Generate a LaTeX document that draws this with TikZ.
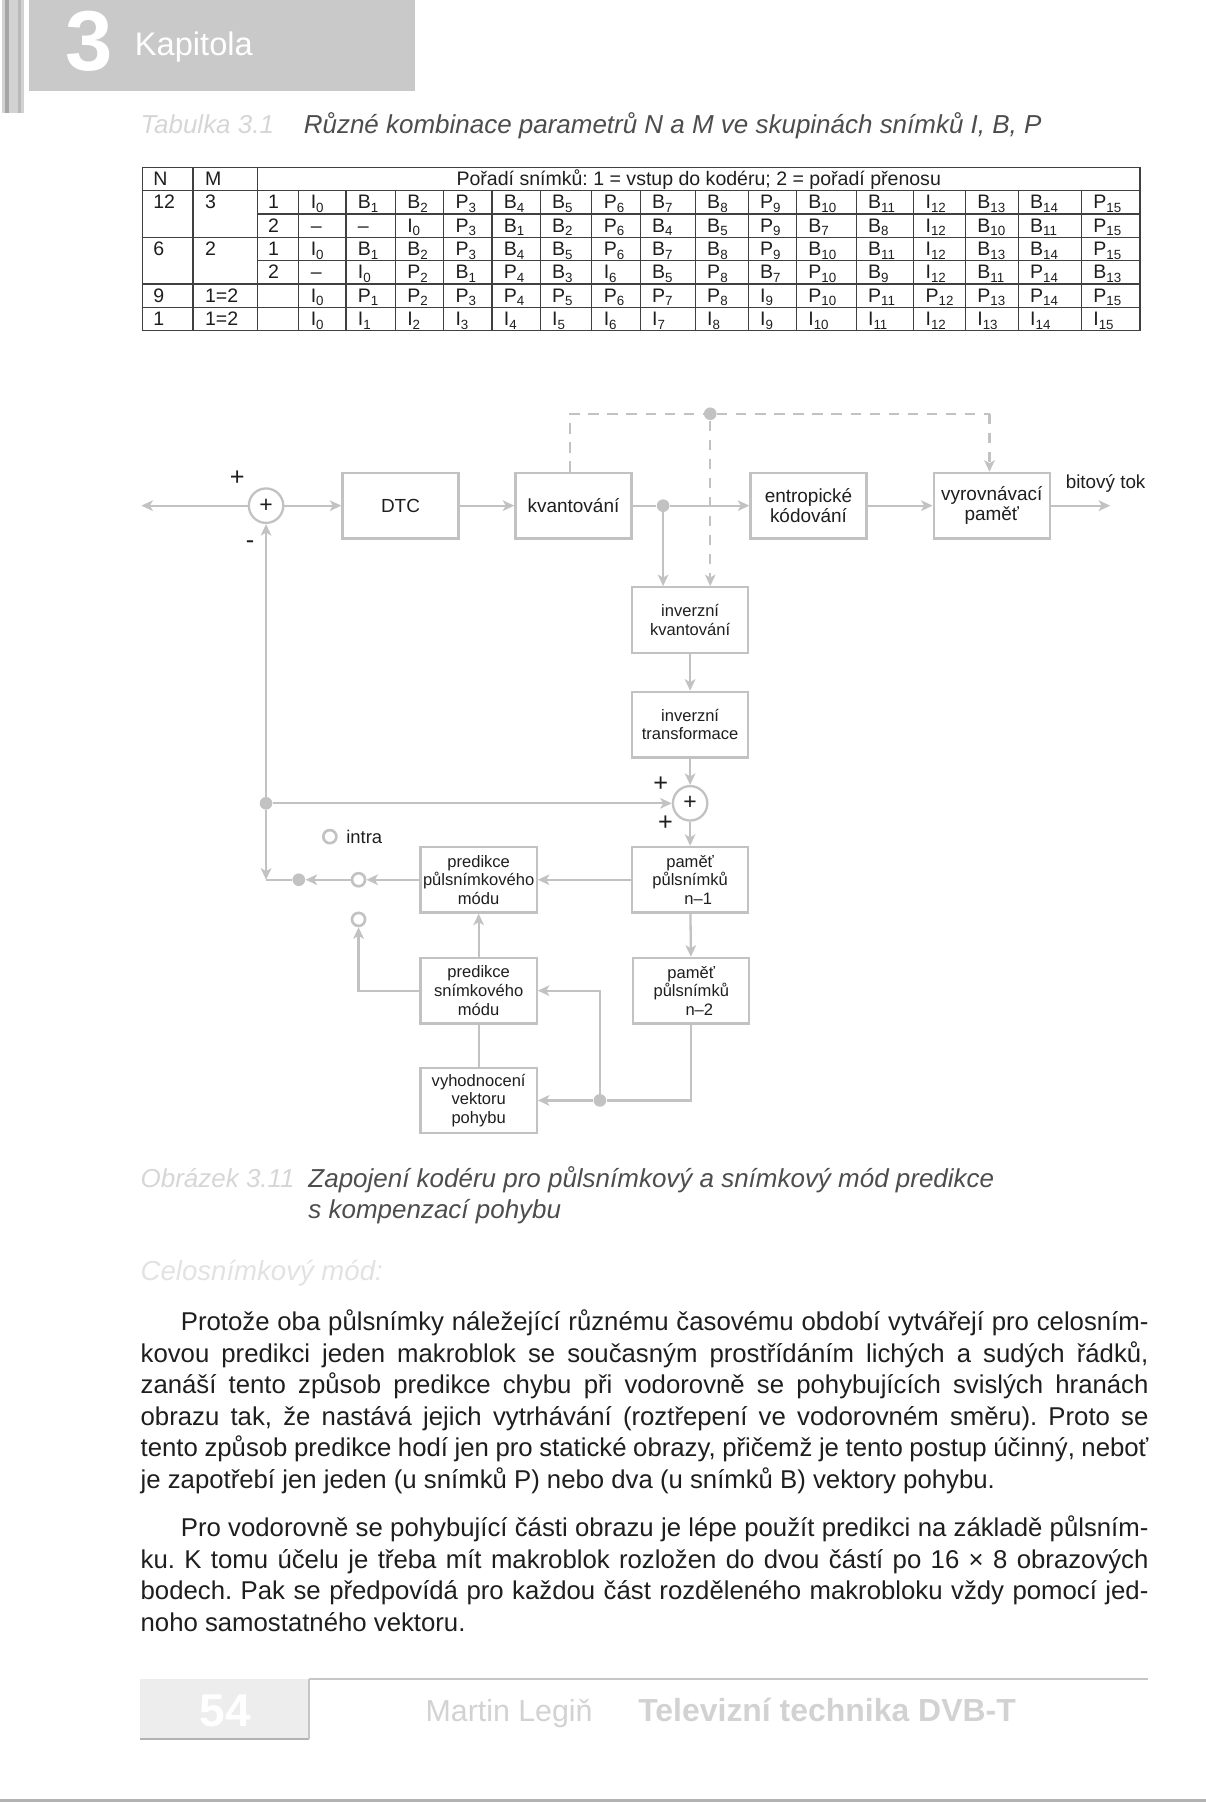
\documentclass[tikz,border=0pt]{standalone}
\usepackage{fontspec}
\setmainfont{Liberation Sans}
\usetikzlibrary{arrows.meta,calc}
\frenchspacing
\definecolor{lg}{HTML}{C2C2C2}
\definecolor{hdr}{HTML}{C9C9C9}
\definecolor{capgray}{HTML}{D6D6D6}
\definecolor{palegray}{HTML}{E2E2E2}
\definecolor{txtgray}{HTML}{4D4D4D}
\definecolor{ink}{HTML}{1E1E1E}
\definecolor{foot}{HTML}{D2D2D2}
\newcommand\fsz[2]{\fontsize{#1}{#2}\selectfont}
\newcommand\fr[2]{#1\raisebox{-0.35ex}{\fsz{5.8}{6}#2}}
\newcommand\bodyf{\fsz{11.2}{13.7}\frenchspacing}
\tikzset{
  cline/.style={draw=lg, line width=1pt},
  arr/.style={cline, -{Stealth[length=5pt,width=4.6pt,inset=1.3pt]}},
  tipd/.style={-{Stealth[length=5pt,width=4.6pt,inset=1.3pt]}},
  dsh/.style={draw=lg, line width=0.9pt, dash pattern=on 4.5pt off 3.8pt},
  blk/.style={draw=lg, line width=1pt, minimum width=50.5pt, minimum height=28.5pt, inner sep=0pt, align=center, text=ink},
  big/.style={blk, font=\fsz{8.25}{8.7}},
  small/.style={blk, font=\fsz{7.2}{8.1}},
  sumc/.style={circle, draw=lg, line width=1pt, minimum size=15pt, inner sep=0pt, font=\fsz{10}{10}, text=ink},
  fdot/.style={circle, fill=lg, minimum size=5.5pt, inner sep=0pt},
  odot/.style={circle, draw=lg, line width=1.15pt, minimum size=5.7pt, inner sep=0pt},
  sgn/.style={font=\fsz{11}{11}, text=ink, inner sep=0pt},
  cell/.style={anchor=base west, inner sep=0pt, font=\fsz{8.5}{10}, text=ink},
  tline/.style={draw=ink!85, line width=0.55pt},
  bline/.style={anchor=base west, inner sep=0pt, font=\bodyf, text=ink}
}
\begin{document}
\begin{tikzpicture}[x=0.5pt,y=-0.5pt]
\useasboundingbox (0,0) rectangle (1049,1568);
% ---------- page header ----------
\fill[hdr] (25,0) rectangle (361,79);
\fill[gray!35] (2,0) rectangle (21,98);
\draw[gray!70, line width=1.5pt] (6,0) -- (6,98);
\draw[gray!55, line width=1pt] (17,0) -- (17,98);
\node[anchor=base west, inner sep=0pt, font=\bfseries\fsz{37}{37}, text=white] (chnum) at (57,61) {3};
\node[anchor=base west, inner sep=0pt, font=\fsz{14.2}{15}, text=white] (chname) at (117,48) {Kapitola};
% ---------- table title ----------
\node[anchor=base west, inner sep=0pt, font=\itshape\fsz{11.3}{13}, text=capgray] (tabno) at (122,116) {Tabulka 3.1};
\node[anchor=base west, inner sep=0pt, font=\itshape\fsz{11.3}{13}, text=txtgray] (tabtitle) at (264,116) {Různé kombinace parametrů N a M ve skupinách snímků I, B, P};
% ---------- table ----------
\draw[tline] (124,145.7) rectangle (992,287.8);
\draw[tline] (124,166) -- (992,166);
\draw[tline] (224,186.3) -- (992,186.3);
\draw[tline] (124,206.6) -- (992,206.6);
\draw[tline] (224,226.9) -- (992,226.9);
\draw[tline] (124,247.2) -- (992,247.2);
\draw[tline] (124,267.5) -- (992,267.5);
\draw[tline] (168,145.7) -- (168,287.8);
\draw[tline] (224,145.7) -- (224,287.8);
\foreach \xv in {260,301,344,386,428,470,515,557,605,651,693,745,795,840,886,941}
  \draw[tline] (\xv,166) -- (\xv,287.8);
\def\colarr{{260,301,344,386,428,470,515,557,605,651,693,745,795,840,886,941}}
\node[cell] (hN) at (133,161.5) {N};
\node[cell] (hM) at (178,161.5) {M};
\node[cell, anchor=base] (hP) at (608,161.5) {Pořadí snímků: 1 = vstup do kodéru; 2 = pořadí přenosu};
% row labels
\node[cell] at (133,181.8) {12};
\node[cell] at (178,181.8) {3};
\node[cell] at (233,181.8) {1};
\node[cell] at (233,202.1) {2};
\node[cell] at (133,222.4) {6};
\node[cell] at (178,222.4) {2};
\node[cell] at (233,222.4) {1};
\node[cell] at (233,242.7) {2};
\node[cell] at (133,263.0) {9};
\node[cell] at (178,263.0) {1=2};
\node[cell] at (133,283.3) {1};
\node[cell] at (178,283.3) {1=2};
% row contents
\foreach \a/\b [count=\i from 0] in {I/0,B/1,B/2,P/3,B/4,B/5,P/6,B/7,B/8,P/9,B/10,B/11,I/12,B/13,B/14,P/15}{
  \pgfmathsetmacro\xc{\colarr[\i]}
  \node[cell] at (\xc+10,181.8) {\fr{\a}{\b}};}
\foreach \a/\b [count=\i from 0] in {–/{},–/{},I/0,P/3,B/1,B/2,P/6,B/4,B/5,P/9,B/7,B/8,I/12,B/10,B/11,P/15}{
  \pgfmathsetmacro\xc{\colarr[\i]}
  \node[cell] at (\xc+10,202.1) {\fr{\a}{\b}};}
\foreach \a/\b [count=\i from 0] in {I/0,B/1,B/2,P/3,B/4,B/5,P/6,B/7,B/8,P/9,B/10,B/11,I/12,B/13,B/14,P/15}{
  \pgfmathsetmacro\xc{\colarr[\i]}
  \node[cell] at (\xc+10,222.4) {\fr{\a}{\b}};}
\foreach \a/\b [count=\i from 0] in {–/{},I/0,P/2,B/1,P/4,B/3,I/6,B/5,P/8,B/7,P/10,B/9,I/12,B/11,P/14,B/13}{
  \pgfmathsetmacro\xc{\colarr[\i]}
  \node[cell] at (\xc+10,242.7) {\fr{\a}{\b}};}
\foreach \a/\b [count=\i from 0] in {I/0,P/1,P/2,P/3,P/4,P/5,P/6,P/7,P/8,I/9,P/10,P/11,P/12,P/13,P/14,P/15}{
  \pgfmathsetmacro\xc{\colarr[\i]}
  \node[cell] at (\xc+10,263.0) {\fr{\a}{\b}};}
\foreach \b [count=\i from 0] in {0,1,2,3,4,5,6,7,8,9,10,11,12,13,14,15}{
  \pgfmathsetmacro\xc{\colarr[\i]}
  \node[cell] at (\xc+10,283.3) {\fr{I}{\b}};}
% ---------- block diagram ----------
\node[sumc] (sum1) at (231.5,440) {+};
\node[big] (dtc) at (348.5,440) {DTC};
\node[big] (kv) at (499,440) {kvantování};
\node[big] (ent) at (703.5,440) {entropické\\kódování};
\node[big] (vyr) at (863,440) {vyrovnávací\\paměť};
\node[small] (ikv) at (600.5,539.5) {inverzní\\kvantování};
\node[small] (itr) at (600.5,630.5) {inverzní\\transformace};
\node[sumc] (sum2) at (600.5,699) {+};
\node[small] (pp) at (416.5,765.5) {predikce\\půlsnímkového\\módu};
\node[small] (m1) at (600.5,765.5) {paměť\\půlsnímků\\\hspace*{7pt}n–1};
\node[small] (ps) at (416.5,862) {predikce\\snímkového\\módu};
\node[small] (m2) at (601.5,862) {paměť\\půlsnímků\\\hspace*{7pt}n–2};
\node[small] (vv) at (416.5,957.5) {vyhodnocení\\vektoru\\pohybu};
\node[fdot] (dot1) at (577,440) {};
\node[fdot] (ddot) at (618,360) {};
\node[fdot] (fbdot) at (231.5,699) {};
\node[fdot] (swa) at (260,765.5) {};
\node[odot] (swb) at (312,765.5) {};
\node[odot] (swc) at (312,800) {};
\node[odot] (intra) at (287,728) {};
\node[fdot] (dot2) at (522,957.5) {};
\coordinate (inp) at (123,440);
\coordinate (outp) at (966,440);
\coordinate (corner) at (231.5,765.5);
\coordinate (dk) at (496,360);
\coordinate (dr) at (861,360);
\draw[arr] (sum1) -- (inp);
\draw[arr] (sum1) -- (dtc);
\draw[arr] (dtc) -- (kv);
\draw[cline] (kv) -- (dot1);
\draw[arr] (dot1) -- (ent);
\draw[arr] (ent) -- (vyr);
\draw[arr] (vyr) -- (outp);
\draw[arr] (dot1) -- (dot1 |- ikv.north);
\draw[dsh] (kv.north -| dk) -- (dk) -- (ddot);
\draw[dsh] (ddot) -- (dr);
\draw[dsh, tipd] (dr) -- (dr |- vyr.north);
\draw[dsh, tipd] (ddot) -- (ddot |- ikv.north);
\draw[arr] (ikv) -- (itr);
\draw[arr] (itr) -- (sum2);
\draw[arr] (fbdot) -- (sum2);
\draw[arr] (fbdot) -- (sum1);
\draw[arr] (fbdot) -- (corner);
\draw[cline] (corner) -- (swa);
\draw[arr] (pp) -- (swb);
\draw[arr] (swb) -- (swa);
\draw[arr] (ps.west) -| (swc);
\draw[arr] (sum2) -- (m1);
\draw[arr] (m1) -- (pp);
\draw[arr] (m1) -- (m2);
\draw[arr] (ps) -- (pp);
\draw[cline] (vv) -- (ps);
\draw[cline] (m2.south) |- (dot2);
\draw[arr] (dot2) -- (vv);
\draw[arr] (dot2) |- (ps.east);
\node[sgn] (pl1) at (206.5,416) {+};
\node[sgn] (mi1) at (217.5,474) {-};
\node[sgn] (pl2) at (575,682.5) {+};
\node[sgn] (pl3) at (579,716) {+};
\node[anchor=west, inner sep=0pt, font=\fsz{8.2}{9}, text=ink] (bt) at (927,421) {bitový tok};
\node[anchor=west, inner sep=0pt, font=\fsz{8}{9}, text=ink] (intraL) at (301,728) {intra};
% ---------- caption ----------
\node[anchor=base west, inner sep=0pt, font=\itshape\fsz{11.3}{13}, text=capgray] (figno) at (122,1033) {Obrázek 3.11};
\node[anchor=base west, inner sep=0pt, font=\itshape\fsz{11.3}{13}, text=txtgray] (cap1) at (268,1033) {Zapojení kodéru pro půlsnímkový a snímkový mód predikce};
\node[anchor=base west, inner sep=0pt, font=\itshape\fsz{11.3}{13}, text=txtgray] (cap2) at (268,1060) {s kompenzací pohybu};
\node[anchor=base west, inner sep=0pt, font=\itshape\fsz{12}{13}, text=palegray] (sect) at (122,1114) {Celosnímkový mód:};
% ---------- body text ----------
\node[bline] (l1) at (157,1158) {\hbox to 421pt{Protože oba půlsnímky náležející různému časovému období vytvářejí pro celosním-}};
\node[bline] (l2) at (122,1185.4) {\hbox to 438.5pt{kovou predikci jeden makroblok se současným prostřídáním lichých a sudých řádků,}};
\node[bline] (l3) at (122,1212.8) {\hbox to 438.5pt{zanáší tento způsob predikce chybu při vodorovně se pohybujících svislých hranách}};
\node[bline] (l4) at (122,1240.2) {\hbox to 438.5pt{obrazu tak, že nastává jejich vytrhávání (roztřepení ve vodorovném směru). Proto se}};
\node[bline] (l5) at (122,1267.6) {\hbox to 438.5pt{tento způsob predikce hodí jen pro statické obrazy, přičemž je tento postup účinný, neboť}};
\node[bline] (l6) at (122,1295) {je zapotřebí jen jeden (u snímků P) nebo dva (u snímků B) vektory pohybu.};
\node[bline] (m1l) at (157,1337) {\hbox to 421pt{Pro vodorovně se pohybující části obrazu je lépe použít predikci na základě půlsním-}};
\node[bline] (m2l) at (122,1364.4) {\hbox to 438.5pt{ku. K tomu účelu je třeba mít makroblok rozložen do dvou částí po 16 × 8 obrazových}};
\node[bline] (m3l) at (122,1391.8) {\hbox to 438.5pt{bodech. Pak se předpovídá pro každou část rozděleného makrobloku vždy pomocí jed-}};
\node[bline] (m4l) at (122,1419.2) {noho samostatného vektoru.};
% ---------- footer ----------
\fill[black!7] (122,1461) rectangle (269,1513);
\draw[gray!60, line width=1pt] (122,1513) -- (269,1513);
\draw[gray!45, line width=1pt] (269,1461) -- (269,1513);
\draw[gray!45, line width=1pt] (269,1461) -- (999,1461);
\node[anchor=base, inner sep=0pt, font=\bfseries\fsz{20}{20}, text=white] (pgno) at (196,1502) {54};
\node[anchor=base west, inner sep=0pt, font=\fsz{13.2}{14}, text=foot] (author) at (370,1498) {Martin Legiň};
\node[anchor=base west, inner sep=0pt, font=\bfseries\fsz{13.9}{15}, text=foot] (book) at (555,1498) {Televizní technika DVB-T};
\fill[gray!60] (0,1565) rectangle (1049,1568);
\end{tikzpicture}
\end{document}
